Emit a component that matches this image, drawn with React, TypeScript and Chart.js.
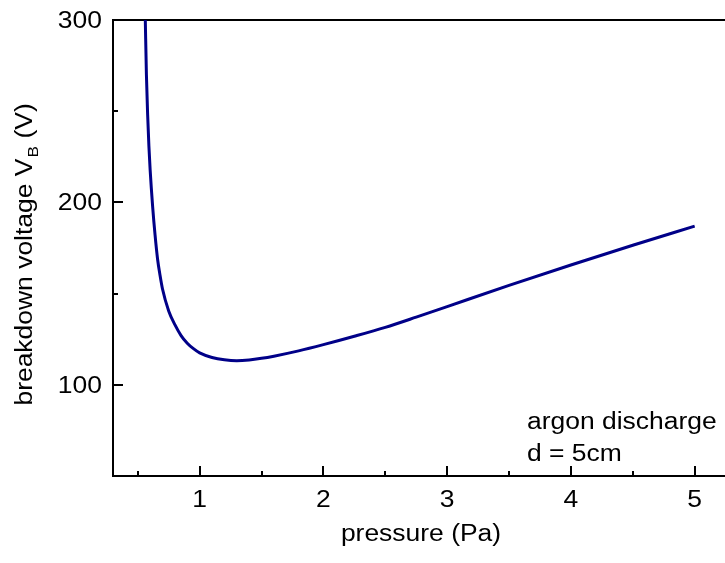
import React, { useEffect, useRef } from "react";
import { Chart, registerables } from "chart.js";

Chart.register(...registerables);

// Data (pressure in Pa, breakdown voltage in V)
const pressure = [0.561, 0.57, 0.58, 0.59, 0.6, 0.62, 0.64, 0.66, 0.68, 0.7, 0.75, 0.8, 0.85, 0.9, 0.95, 1.0, 1.1, 1.2, 1.3, 1.4, 1.5, 1.6, 1.8, 2.0, 2.25, 2.5, 2.75, 3.0, 3.5, 4.0, 4.5, 5.0];
const voltage = [300, 270, 248, 231, 218, 198, 182, 169, 160, 152.5, 140.5, 133, 127, 122.8, 119.8, 117.5, 115, 113.7, 113.2, 113.6, 114.5, 115.7, 118.6, 122, 126.6, 131.5, 137.1, 142.9, 154.5, 165.7, 176.5, 187];

const xMajorTicks = [1, 2, 3, 4, 5];
const xMinorTicks = [0.5, 1.5, 2.5, 3.5, 4.5];
const yMajorTicks = [100, 200, 300];
const yMinorTicks = [150, 250];

const xTitle = "pressure (Pa)";
const yTitleMain = "breakdown voltage V";
const yTitleSub = "B";
const yTitleEnd = " (V)";
const noteLines = ["argon discharge", "d = 5cm"];

const FAMILY = '"Liberation Sans", Arial, sans-serif';
const FONT = `23px ${FAMILY}`;
const SUBFONT = `15px ${FAMILY}`;
const SX = 1.15;

function drawText(ctx: CanvasRenderingContext2D, text: string, x: number, y: number, align: CanvasTextAlign) {
  ctx.save();
  ctx.translate(x, y);
  ctx.scale(SX, 1);
  ctx.font = FONT;
  ctx.fillStyle = "#000";
  ctx.textAlign = align;
  ctx.textBaseline = "alphabetic";
  ctx.fillText(text, 0, 0);
  ctx.restore();
}

const decorPlugin = {
  id: "decor",
  afterDraw(chart: any) {
    const ctx: CanvasRenderingContext2D = chart.ctx;
    const xs = chart.scales.x;
    const ys = chart.scales.y;
    const area = chart.chartArea;
    ctx.save();
    ctx.strokeStyle = "#000";
    ctx.lineWidth = 2;
    ctx.beginPath();
    xMajorTicks.forEach((v) => {
      const px = Math.round(xs.getPixelForValue(v));
      ctx.moveTo(px, area.bottom);
      ctx.lineTo(px, area.bottom - 10);
    });
    xMinorTicks.forEach((v) => {
      const px = Math.round(xs.getPixelForValue(v));
      ctx.moveTo(px, area.bottom);
      ctx.lineTo(px, area.bottom - 5);
    });
    yMajorTicks.forEach((v) => {
      const py = Math.round(ys.getPixelForValue(v));
      ctx.moveTo(area.left, py);
      ctx.lineTo(area.left + 10, py);
    });
    yMinorTicks.forEach((v) => {
      const py = Math.round(ys.getPixelForValue(v));
      ctx.moveTo(area.left, py);
      ctx.lineTo(area.left + 5, py);
    });
    ctx.stroke();
    ctx.restore();

    // tick labels
    xMajorTicks.forEach((v) => {
      drawText(ctx, String(v), xs.getPixelForValue(v), area.bottom + 31, "center");
    });
    yMajorTicks.forEach((v) => {
      drawText(ctx, String(v), area.left - 11, ys.getPixelForValue(v) + 8, "right");
    });

    // x title
    drawText(ctx, xTitle, (area.left + area.right) / 2 + 2, area.bottom + 65, "center");

    // y title with subscript
    ctx.save();
    ctx.translate(32, 255);
    ctx.rotate(-Math.PI / 2);
    ctx.scale(SX, 1);
    ctx.fillStyle = "#000";
    ctx.textBaseline = "alphabetic";
    ctx.textAlign = "left";
    ctx.font = FONT;
    const w1 = ctx.measureText(yTitleMain).width;
    const w3 = ctx.measureText(yTitleEnd).width;
    ctx.font = SUBFONT;
    const w2 = ctx.measureText(yTitleSub).width;
    const x0 = -(w1 + w2 + w3) / 2;
    ctx.font = FONT;
    ctx.fillText(yTitleMain, x0, 0);
    ctx.font = SUBFONT;
    ctx.fillText(yTitleSub, x0 + w1 + 1, 6);
    ctx.font = FONT;
    ctx.fillText(yTitleEnd, x0 + w1 + w2 + 1, 0);
    ctx.restore();

    // annotation
    noteLines.forEach((t, i) => {
      drawText(ctx, t, 527, 429 + i * 32, "left");
    });
  },
};

export default function App() {
  const ref = useRef<HTMLCanvasElement | null>(null);
  useEffect(() => {
    if (!ref.current) return;
    const chart = new Chart(ref.current, {
      type: "line",
      data: {
        datasets: [
          {
            data: pressure.map((p, i) => ({ x: p, y: voltage[i] })),
            borderColor: "#000088",
            borderWidth: 3,
            pointRadius: 0,
            fill: false,
            cubicInterpolationMode: "monotone",
          },
        ],
      },
      options: {
        animation: false,
        responsive: false,
        devicePixelRatio: 1,
        plugins: { legend: { display: false }, tooltip: { enabled: false } },
        layout: { padding: { left: 113, top: 20, right: 0, bottom: 87 } },
        scales: {
          x: {
            type: "linear",
            position: "bottom",
            min: 0.3,
            max: 5.245,
            ticks: { display: false },
            grid: { display: false, drawTicks: false, tickLength: 0 },
            border: { display: true, color: "#000", width: 2 },
          },
          x2: {
            type: "linear",
            position: "top",
            min: 0.3,
            max: 5.245,
            display: true,
            ticks: { display: false },
            grid: { display: false, drawTicks: false, tickLength: 0 },
            border: { display: true, color: "#000", width: 2 },
          },
          y: {
            type: "linear",
            min: 50,
            max: 300,
            ticks: { display: false },
            grid: { display: false, drawTicks: false, tickLength: 0 },
            border: { display: true, color: "#000", width: 2 },
          },
        },
      },
      plugins: [decorPlugin],
    } as any);
    return () => chart.destroy();
  }, []);
  return (
    <div style={{ position: "fixed", left: 0, top: 0, width: 725, height: 563, background: "#fff" }}>
      <canvas ref={ref} width={725} height={563} />
    </div>
  );
}
